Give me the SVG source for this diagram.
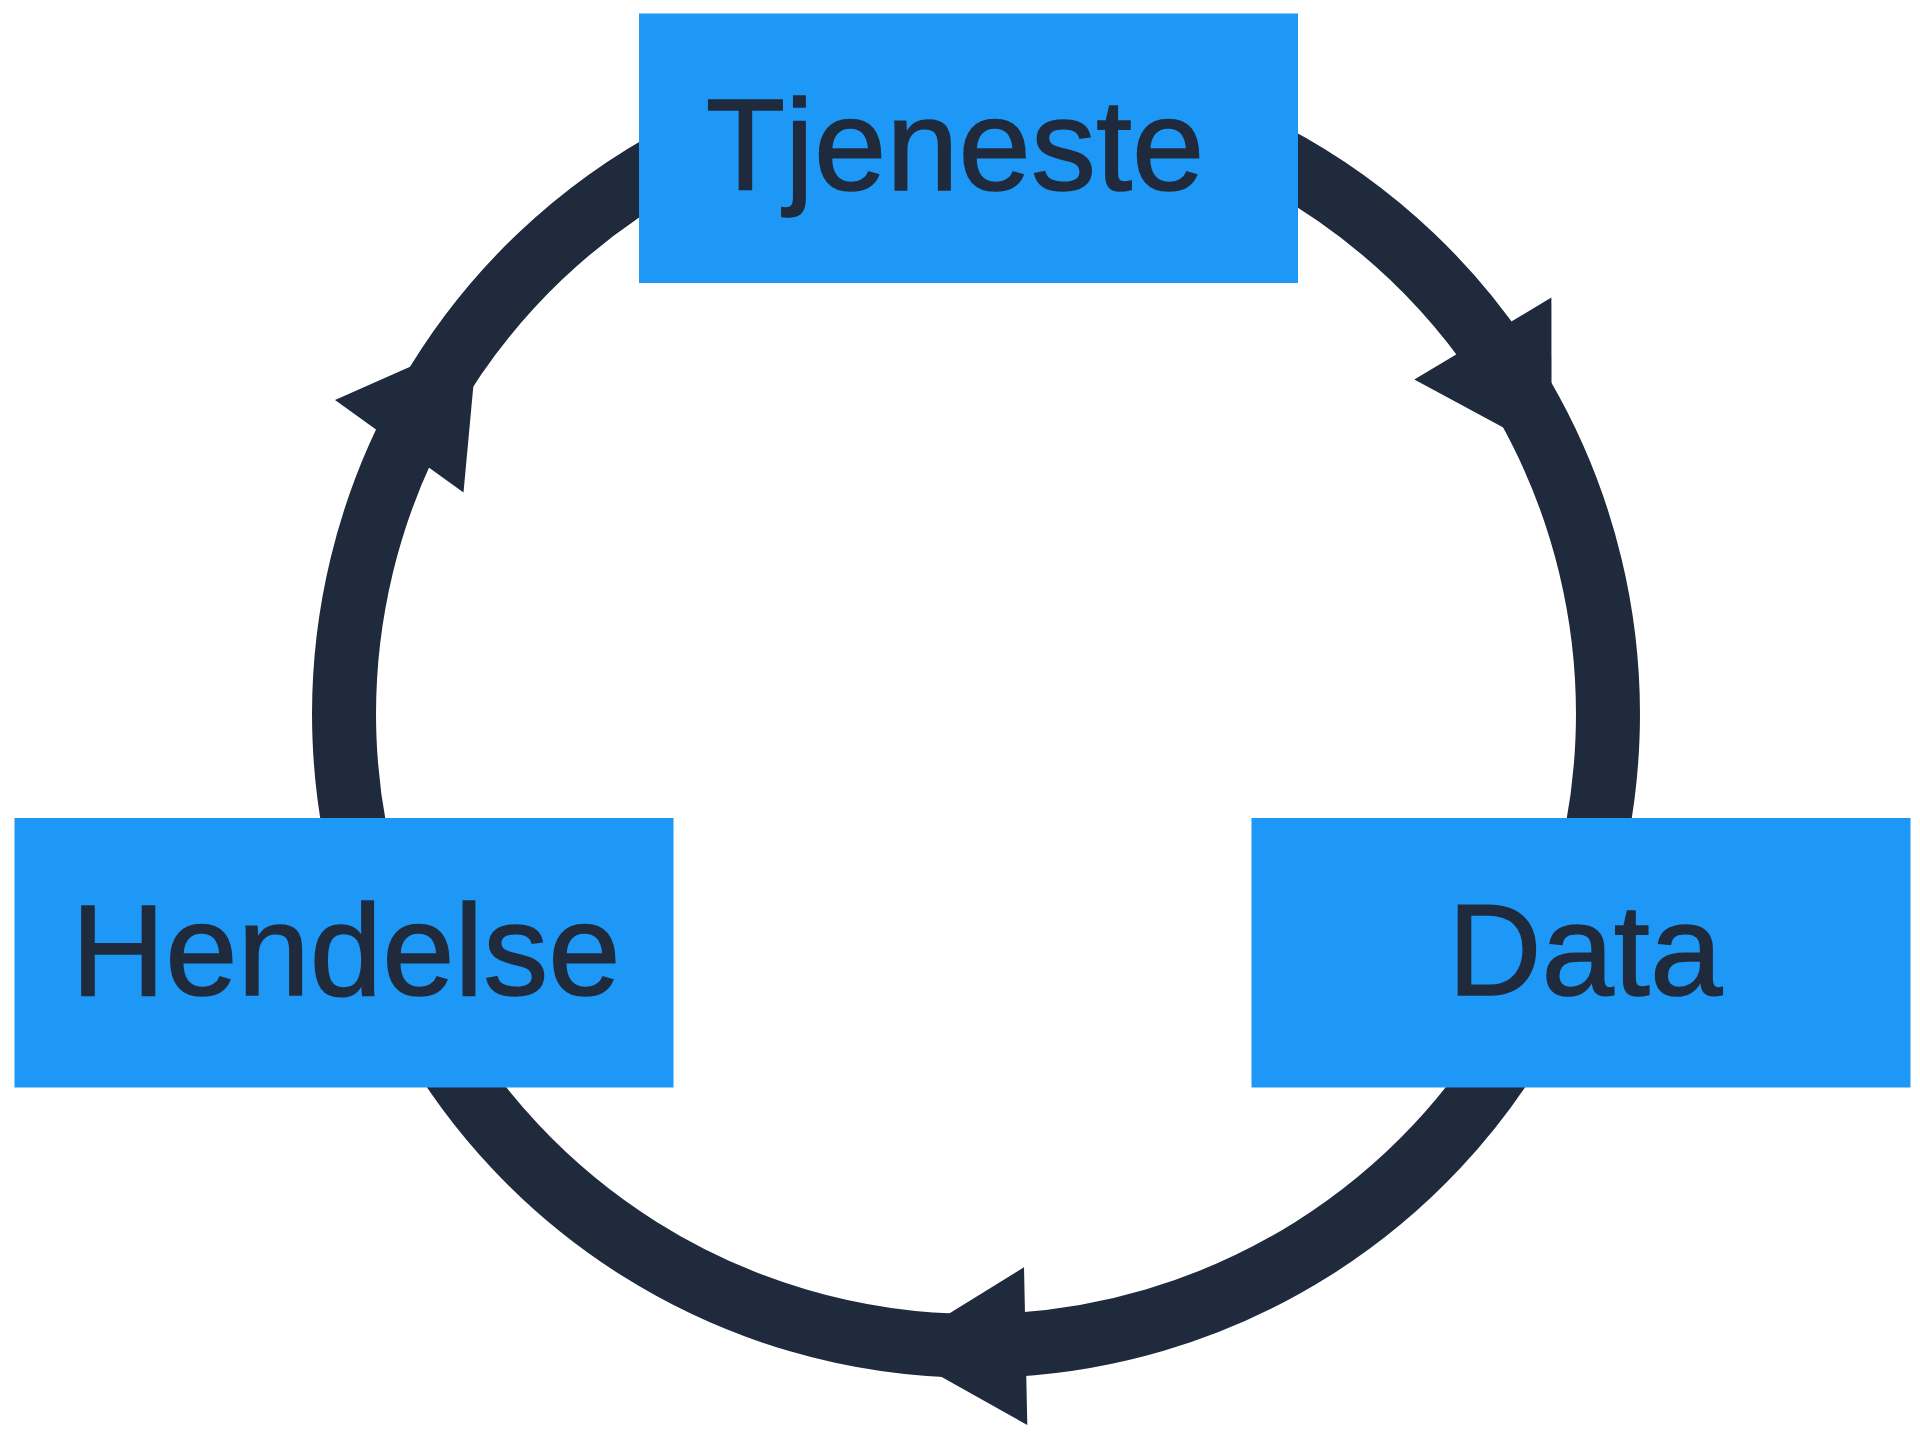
<svg xmlns="http://www.w3.org/2000/svg" width="1920" height="1443" viewBox="0 0 1920 1443">
<style>
.ring{fill:none;stroke:#1F2B3D;stroke-width:64}
.head{fill:#1F2B3D}
.box{fill:#1E98F6}
.lbl{font-family:"Liberation Sans",Arial,sans-serif;font-size:130px;fill:#1F2B3D;stroke:#1F2B3D;stroke-width:1.5;text-anchor:middle}
</style>
<rect width="1920" height="1443" fill="#FFFFFF"/>
<g id="connectors">
<path class="ring" d="M976 82 A632 632 0 0 1 1523.3 1030"/>
<path class="ring" d="M1523.3 1030 A632 632 0 0 1 428.7 1030"/>
<path class="ring" d="M428.7 1030 A632 632 0 0 1 976 82"/>
<polygon class="head" points="1551.4,297.6 1414.3,379.6 1551.6,453.6"/>
<polygon class="head" points="1024,1267.3 1027.3,1425 891.7,1349"/>
<polygon class="head" points="335,400 463.5,492.5 477.9,336.7"/>
</g>
<g id="node-tjeneste">
<rect class="box" x="639" y="13.5" width="659" height="269.5"/>
<text class="lbl" x="955" y="190">Tjeneste</text>
</g>
<g id="node-data">
<rect class="box" x="1251.5" y="818" width="659" height="269.5"/>
<text class="lbl" x="1585" y="995">Data</text>
</g>
<g id="node-hendelse">
<rect class="box" x="14.5" y="818" width="659" height="269.5"/>
<text class="lbl" x="346" y="995">Hendelse</text>
</g>
</svg>
